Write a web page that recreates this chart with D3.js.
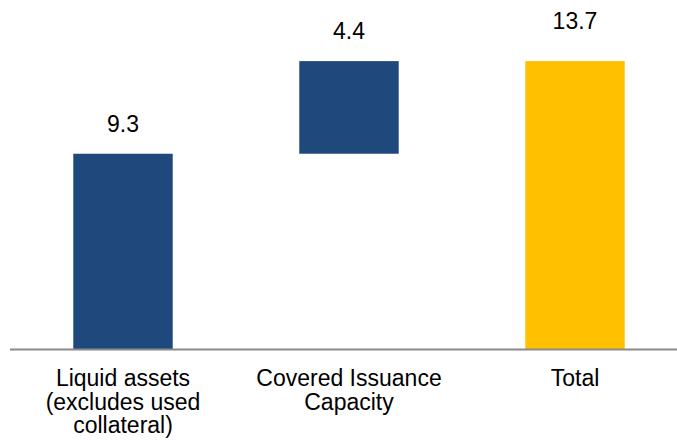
<!DOCTYPE html>
<html>
<head>
<meta charset="utf-8">
<script src="https://cdn.jsdelivr.net/npm/d3@7"></script>
<style>
  html, body { margin: 0; padding: 0; background: #ffffff; }
  svg { display: block; }
  text { font-family: "Liberation Sans", Arial, sans-serif; fill: #000; }
</style>
</head>
<body>
<script>
// ---- data ----
const categories = [
  ["Liquid assets", "(excludes used", "collateral)"],
  ["Covered Issuance", "Capacity"],
  ["Total"]
];
const values = [9.3, 4.4, 13.7];
const valueLabels = ["9.3", "4.4", "13.7"];
const barTypes = ["step", "step", "total"];

// ---- layout ----
const W = 677, H = 442;
const svg = d3.select("body").append("svg").attr("width", W).attr("height", H);

const keys = categories.map((c, i) => "c" + i);
const x = d3.scaleBand().domain(keys).range([10, 688]).paddingInner(0.56).paddingOuter(0.28);
const y = d3.scaleLinear().domain([0, 14]).range([349.5, 54.8]);

// waterfall bases
let run = 0;
const bars = values.map((v, i) => {
  let base, top;
  if (barTypes[i] === "total") { base = 0; top = v; }
  else { base = run; top = run + v; run = top; }
  return { key: keys[i], base, top, v, type: barTypes[i], label: valueLabels[i] };
});

svg.selectAll("rect.bar").data(bars).enter().append("rect")
  .attr("class", "bar")
  .attr("x", d => x(d.key))
  .attr("width", x.bandwidth())
  .attr("y", d => y(d.top))
  .attr("height", d => y(d.base) - y(d.top))
  .attr("fill", d => d.type === "total" ? "#FFC000" : "#1F497D");

// axis line
const axis = d3.axisBottom(x).tickSize(0).tickFormat("");
const ax = svg.append("g").attr("transform", `translate(0,${y(0)})`).call(axis);
ax.select(".domain").attr("stroke", "#8a8a8a").attr("stroke-width", 2)
  .attr("d", `M10,0H${W}`);

// value labels
svg.selectAll("text.val").data(bars).enter().append("text")
  .attr("class", "val")
  .attr("x", d => x(d.key) + x.bandwidth() / 2)
  .attr("y", d => y(d.top) - (d.type === "total" ? 32 : 22))
  .attr("text-anchor", "middle")
  .attr("font-size", 23)
  .text(d => d.label);

// category labels
const cat = svg.selectAll("text.cat").data(categories).enter().append("text")
  .attr("class", "cat")
  .attr("text-anchor", "middle")
  .attr("font-size", 23)
  .attr("x", (d, i) => x(keys[i]) + x.bandwidth() / 2)
  .attr("y", 386);
cat.selectAll("tspan").data(d => d).enter().append("tspan")
  .attr("x", function() { return d3.select(this.parentNode).attr("x"); })
  .attr("dy", (d, i) => i === 0 ? 0 : 23.5)
  .text(d => d);
</script>
</body>
</html>
